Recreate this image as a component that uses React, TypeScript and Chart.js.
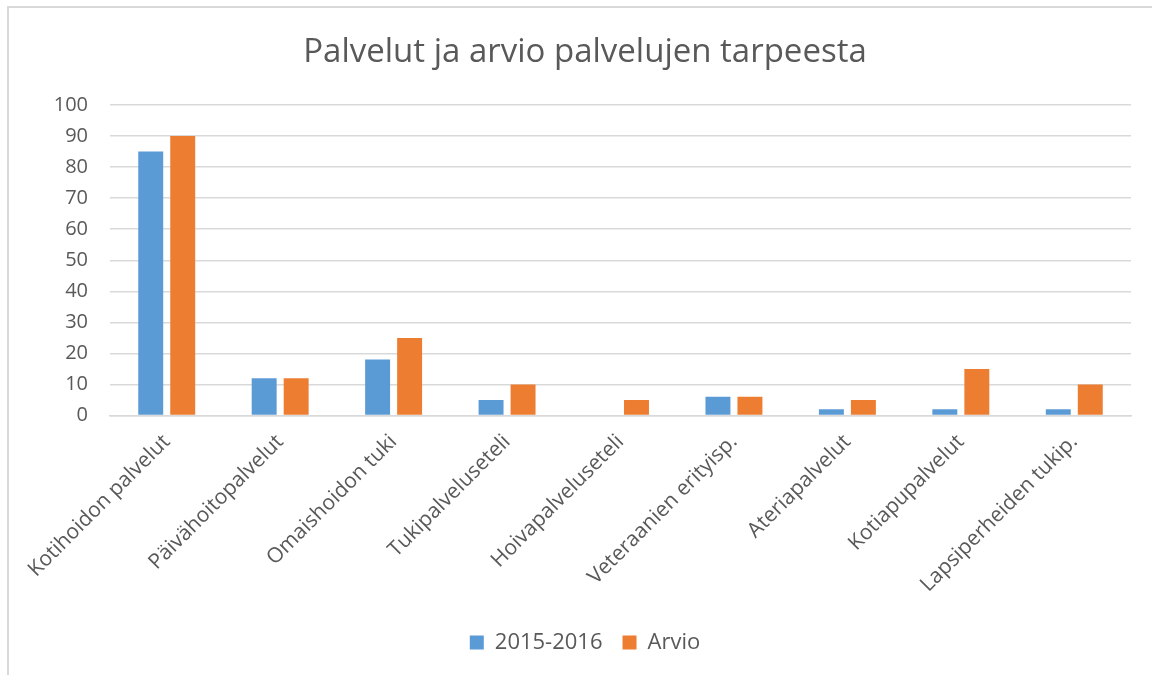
import React, { useEffect, useRef } from "react";
import { Chart, registerables } from "chart.js";

Chart.register(...registerables);

const categories = [
  "Kotihoidon palvelut",
  "Päivähoitopalvelut",
  "Omaishoidon tuki",
  "Tukipalveluseteli",
  "Hoivapalveluseteli",
  "Veteraanien erityisp.",
  "Ateriapalvelut",
  "Kotiapupalvelut",
  "Lapsiperheiden tukip.",
];
const series2015 = [85, 12, 18, 5, 0, 6, 2, 2, 2];
const seriesArvio = [90, 12, 25, 10, 5, 6, 5, 15, 10];
const seriesLabels = ["2015-2016", "Arvio"];
const titleText = "Palvelut ja arvio palvelujen tarpeesta";

const FONT = "'Open Sans', 'Noto Sans', sans-serif";
const TEXT = "#595959";

export default function App() {
  const ref = useRef<HTMLCanvasElement | null>(null);
  useEffect(() => {
    if (!ref.current) return;
    const chart = new Chart(ref.current, {
      type: "bar",
      data: {
        labels: categories,
        datasets: [
          {
            label: seriesLabels[0],
            data: series2015,
            backgroundColor: "#5B9BD5",
            barPercentage: 0.78,
            categoryPercentage: 0.564,
          },
          {
            label: seriesLabels[1],
            data: seriesArvio,
            backgroundColor: "#ED7D31",
            barPercentage: 0.78,
            categoryPercentage: 0.564,
          },
        ],
      },
      options: {
        animation: false,
        responsive: false,
        maintainAspectRatio: false,
        layout: { padding: { left: 8, right: 0, top: 33, bottom: 11.5 } },
        plugins: {
          title: {
            display: true,
            text: titleText,
            color: TEXT,
            font: { family: FONT, size: 33, weight: "normal" },
            padding: { top: 0, bottom: 32.4 },
          },
          legend: {
            position: "bottom",
            labels: {
              color: TEXT,
              font: { family: FONT, size: 22 },
              boxWidth: 14,
              boxHeight: 14,
              padding: 20,
            },
          },
          tooltip: { enabled: false },
        },
        scales: {
          x: {
            grid: { display: false, drawTicks: false },
            border: { color: "#d9d9d9", width: 1.5 },
            ticks: {
              color: TEXT,
              font: { family: FONT, size: 21 },
              maxRotation: 45,
              minRotation: 45,
              autoSkip: false,
              padding: 14,
            },
            afterFit: (s: any) => {
              s.height = 196;
            },
          },
          y: {
            min: 0,
            max: 100,
            grid: { color: "#d9d9d9", lineWidth: 1.5, drawTicks: false },
            border: { display: false },
            ticks: {
              stepSize: 10,
              color: TEXT,
              font: { family: FONT, size: 20 },
              padding: 22,
            },
            afterFit: (s: any) => {
              s.width = 102;
            },
          },
          yRight: {
            position: "right",
            display: true,
            grid: { display: false, drawTicks: false },
            border: { display: false },
            ticks: { display: false },
            afterFit: (s: any) => {
              s.width = 31;
            },
          },
        },
      },
    });
    return () => chart.destroy();
  }, []);
  return (
    <div style={{ position: "fixed", left: 0, top: 0, width: 1152, height: 675, background: "#fff", overflow: "hidden" }}>
      <div
        style={{
          position: "absolute",
          left: 7,
          top: 6,
          width: 1160,
          height: 680,
          border: "2px solid #d9d9d9",
          boxSizing: "border-box",
        }}
      />
      <canvas ref={ref} width={1162} height={675} style={{ position: "absolute", left: 0, top: 0 }} />
    </div>
  );
}
